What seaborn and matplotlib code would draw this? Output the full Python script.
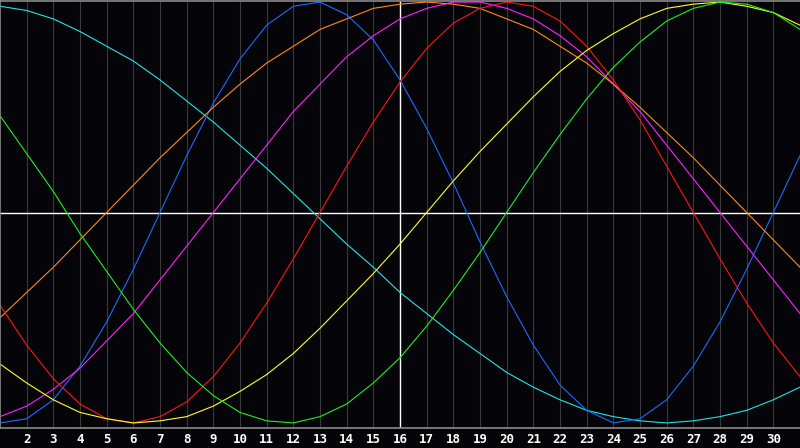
import pandas as pd
import matplotlib
matplotlib.use("Agg")
import matplotlib.pyplot as plt
import seaborn as sns

# day numbers along the bottom
days = list(range(1, 32))

# curve values per day (-1 .. 1)
physical = [-1.00, -0.98, -0.89, -0.73, -0.52, -0.27, 0.00, 0.27, 0.52, 0.73, 0.89, 0.98, 1.00, 0.94, 0.82, 0.63,
            0.40, 0.14, -0.14, -0.40, -0.63, -0.82, -0.94, -1.00, -0.98, -0.89, -0.73, -0.52, -0.27, 0.00, 0.27]
emotional = [-0.44, -0.63, -0.79, -0.91, -0.98, -1.00, -0.97, -0.90, -0.78, -0.62, -0.43, -0.22, 0.00, 0.22, 0.43, 0.62,
             0.78, 0.90, 0.97, 1.00, 0.98, 0.91, 0.79, 0.63, 0.44, 0.22, 0.00, -0.22, -0.43, -0.62, -0.78]
intellectual = [0.46, 0.28, 0.10, -0.10, -0.28, -0.46, -0.62, -0.76, -0.87, -0.95, -0.99, -1.00, -0.97, -0.91, -0.81, -0.69,
                -0.54, -0.37, -0.19, 0.00, 0.19, 0.37, 0.54, 0.69, 0.81, 0.91, 0.97, 1.00, 0.99, 0.95, 0.87]
intuitive = [-0.97, -0.92, -0.84, -0.74, -0.61, -0.48, -0.32, -0.16, 0.00, 0.16, 0.32, 0.48, 0.61, 0.74, 0.84, 0.92,
             0.97, 1.00, 1.00, 0.97, 0.92, 0.84, 0.74, 0.61, 0.48, 0.32, 0.16, 0.00, -0.16, -0.32, -0.48]
aesthetic = [-0.72, -0.81, -0.89, -0.95, -0.98, -1.00, -0.99, -0.97, -0.92, -0.85, -0.77, -0.67, -0.55, -0.42, -0.29, -0.15,
             0.00, 0.15, 0.29, 0.42, 0.55, 0.67, 0.77, 0.85, 0.92, 0.97, 0.99, 1.00, 0.98, 0.95, 0.89]
awareness = [-0.50, -0.38, -0.26, -0.13, 0.00, 0.13, 0.26, 0.38, 0.50, 0.61, 0.71, 0.79, 0.87, 0.92, 0.97, 0.99,
             1.00, 0.99, 0.97, 0.92, 0.87, 0.79, 0.71, 0.61, 0.50, 0.38, 0.26, 0.13, 0.00, -0.13, -0.26]
spiritual = [0.98, 0.96, 0.92, 0.86, 0.79, 0.72, 0.63, 0.53, 0.43, 0.32, 0.21, 0.09, -0.03, -0.15, -0.26, -0.38,
             -0.48, -0.58, -0.67, -0.76, -0.83, -0.89, -0.94, -0.97, -0.99, -1.00, -0.99, -0.97, -0.94, -0.89, -0.83]

today = 16
tick_days = list(range(2, 31))

series = {
    "spiritual": spiritual,
    "physical": physical,
    "intuitive": intuitive,
    "awareness": awareness,
    "emotional": emotional,
    "aesthetic": aesthetic,
    "intellectual": intellectual,
}
colors = {
    "spiritual": "#20e4e4",
    "physical": "#1a6cff",
    "intuitive": "#ff20ff",
    "awareness": "#ff8a18",
    "emotional": "#ff1414",
    "aesthetic": "#ffff20",
    "intellectual": "#20ee20",
}

df = pd.concat([pd.DataFrame({"day": days, "value": vals, "cycle": name}) for name, vals in series.items()])

bg = "#050409"
fig = plt.figure(figsize=(8, 4.48), dpi=100, facecolor=bg)
ax = fig.add_axes([0, 20 / 448, 1, 427 / 448])
ax.set_facecolor(bg)

for d in tick_days:
    ax.axvline(d, color="#3a3a3a", lw=0.8, zorder=0)
ax.axvline(today, color="white", lw=1.0, zorder=1)
ax.axhline(0, color="white", lw=1.0, zorder=1)

sns.lineplot(data=df, x="day", y="value", hue="cycle", hue_order=list(series.keys()),
             palette=colors, lw=0.8, legend=False, ax=ax, zorder=2)

ax.set_xlim(1, 31)
ax.set_ylim(-1.024, 1.005)
ax.set_xlabel("")
ax.set_ylabel("")
ax.set_yticks([])
ax.set_xticks(tick_days)
ax.set_xticklabels([str(d) for d in tick_days], color="white", fontsize=9,
                   fontweight="bold", family="DejaVu Sans Mono")
ax.tick_params(axis="x", length=0, pad=3.5)

for side in ["left", "top", "bottom"]:
    ax.spines[side].set_color("#8a8a8a")
    ax.spines[side].set_linewidth(1.2)
ax.spines["right"].set_visible(False)

fig.savefig("out.png", dpi=100, facecolor=bg)
